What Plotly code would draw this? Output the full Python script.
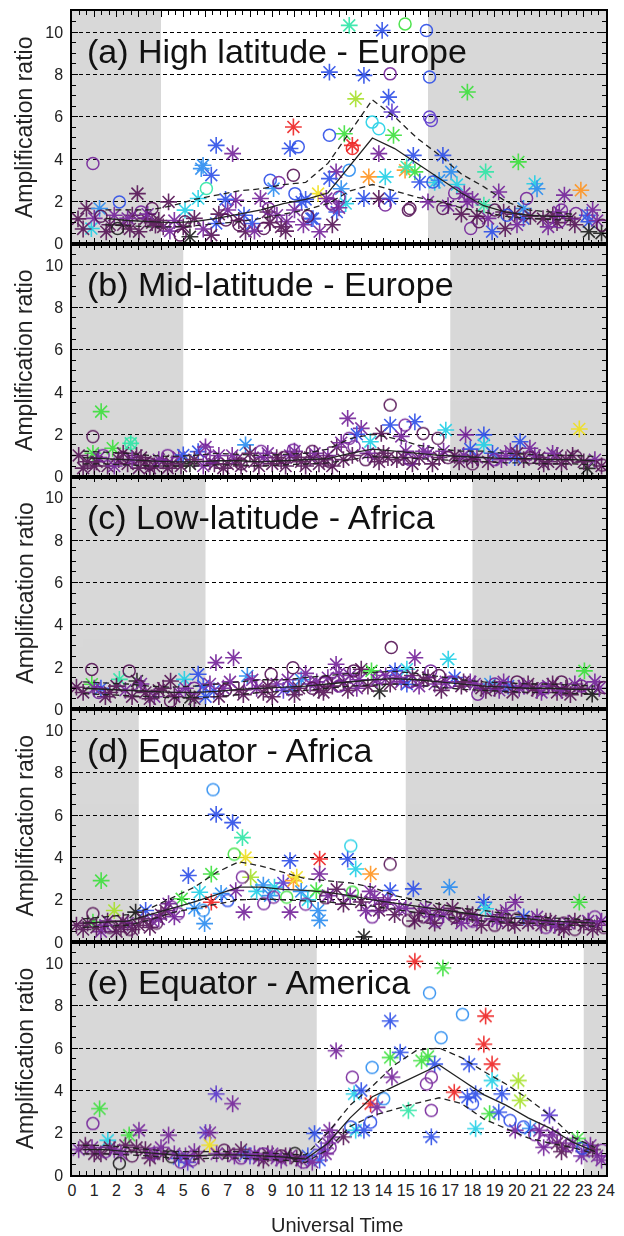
import plotly.graph_objects as go
from plotly.subplots import make_subplots

# ---------------- data ----------------
PALETTE = ["#561456", "#74239a", "#5a36cc", "#2d4ee8", "#2a8cf0", "#22d0e6",
           "#2ee6a6", "#3ce03c", "#a6e02a", "#f0e01e", "#ff9420", "#ee2222", "#1c1c1c"]

PANEL_TITLES = ["(a) High latitude - Europe", "(b) Mid-latitude - Europe",
                "(c) Low-latitude - Africa", "(d) Equator - Africa", "(e) Equator - America"]

NIGHT = [[(0, 4), (16, 24)], [(0, 5), (17, 24)], [(0, 6), (18, 24)],
         [(0, 3), (15, 24)], [(0, 11), (23, 24)]]

X_TICKS = [0, 1, 2, 3, 4, 5, 6, 7, 8, 9, 10, 11, 12, 13, 14, 15, 16, 17, 18, 19, 20, 21, 22, 23, 24]
LINE_X = [0.5, 1.5, 2.5, 3.5, 4.5, 5.5, 6.5, 7.5, 8.5, 9.5, 10.5, 11.5,
          12.5, 13.5, 14.5, 15.5, 16.5, 17.5, 18.5, 19.5, 20.5, 21.5, 22.5, 23.5]

# (hour, ratio, colour index)
a_star = [(0.27,1.18,0),(0.65,1.67,0),(0.87,0.72,5),(1.24,1.67,4),(1.54,0.57,0),(1.9,1.35,1),
          (2.94,2.37,0),(2.71,1.35,0),(3.01,0.57,0),(3.31,1.19,0),(3.75,0.88,0),(4.34,1.98,0),
          (5.3,0.33,12),(5.08,1.59,5),(5.67,2.14,5),(5.81,3.55,4),(6.26,3.24,3),(6.48,4.65,3),
          (7.22,4.26,1),(6.48,0.96,3),(6.26,0.41,0),(7.36,2.06,1),(7.73,1.35,3),(7.8,0.57,0),
          (8.1,0.96,3),(8.47,2.14,1),(9.06,2.61,4),(9.95,5.52,11),(9.8,4.5,3),(9.65,1.04,1),
          (9.21,1.35,1),(10.32,1.98,3),(5.89,3.71,4),(12.46,10.32,6),(12.75,6.85,8),(11.57,8.11,3),
          (13.12,7.96,3),(13.94,10.08,3),(14.23,6.93,3),(14.38,6.23,2),(12.6,4.65,11),(12.24,5.2,7),
          (14.45,5.13,7),(13.79,4.26,1),(15.34,4.18,3),(13.34,3.16,10),(14.08,3.16,5),(14.97,3.48,10),
          (15.41,3.4,7),(13.12,2.14,3),(13.79,2.14,0),(14.3,2.14,3),(16.0,1.98,1),(11.06,2.37,9),
          (11.43,2.14,1),(10.76,1.19,3),(11.13,0.57,1),(11.87,3.4,1),(11.57,3.08,3),(17.77,7.17,7),
          (20.06,3.87,7),(20.8,2.84,5),(22.87,2.53,10),(22.13,2.3,1),(18.59,3.4,6),(17.04,3.4,4),
          (16.67,4.18,3),(17.63,2.37,1),(17.77,1.98,1),(18.88,0.57,3),(19.47,0.72,0),(19.18,2.45,1),
          (18.51,1.83,6),(20.29,1.67,4),(20.29,1.19,3),(21.17,1.19,0),(21.61,1.35,0),(23.16,1.35,3),
          (23.23,1.04,3),(23.23,0.57,12),(15.63,2.92,3),(16.3,2.9,5),(15.04,3.63,6),(10.83,1.19,3),
          (2.3,0.9,0),(3.6,1.0,0),(4.1,0.8,0),(4.6,1.1,1),(2.5,1.2,1),(8.8,1.5,0),(9.4,0.8,0),
          (10.0,1.6,1),(10.5,2.1,3),(11.9,1.5,3),(12.1,2.6,4),(12.3,1.9,5),(7.0,1.6,1),(6.9,2.1,3),
          (5.5,1.2,0),(16.5,3.0,4),(17.3,2.8,5),(16.9,1.8,1),(18.2,1.3,0),(19.9,1.4,0),(21.8,1.0,0),
          (22.4,1.2,0),(23.6,1.1,1),(20.9,2.6,4),
          (0.5,0.7,0),(1.0,1.2,1),(1.7,0.9,0),(2.6,0.7,0),(3.4,1.4,1),(3.9,1.1,0),(4.4,0.6,1),
          (5.0,0.8,0),(5.9,0.7,1),(6.6,1.4,0),(7.5,1.1,0),(8.2,0.6,1),(8.9,1.0,0),(9.6,0.6,0),
          (10.4,0.9,1),(11.7,0.9,0),(12.0,1.7,1),(17.5,1.4,0),(18.0,2.1,1),(18.7,1.2,1),(19.4,1.5,0),
          (20.0,0.9,1),(20.6,1.3,0),(21.4,0.8,1),(21.9,1.5,1),(22.6,0.9,0),(23.4,1.6,1),(23.8,0.5,12)]
a_circ = [(0.94,3.79,1),(2.05,0.72,12),(2.13,1.98,3),(3.6,1.67,0),(4.86,0.41,0),(5.08,1.04,0),
          (6.04,2.61,6),(6.92,1.12,0),(8.62,0.72,0),(8.91,3.0,3),(9.95,3.24,0),(10.17,4.58,3),
          (8.84,1.67,1),(10.02,2.37,3),(11.57,5.13,3),(12.46,3.48,4),(14.3,8.03,1),(14.97,10.39,7),
          (15.93,10.08,3),(12.6,4.5,11),(13.49,5.75,5),(13.79,5.44,5),(14.08,1.83,1),(15.19,1.67,0),
          (11.65,1.9,1),(16.07,7.88,3),(16.07,5.99,2),(16.15,5.83,2),(15.12,1.59,0),(16.67,1.67,0),
          (17.92,0.72,1),(18.29,1.04,0),(19.55,1.35,3),(20.43,2.14,1),(21.9,1.04,1),(22.65,1.43,1),
          (23.83,0.88,0),(16.22,2.92,3),(11.72,1.83,1),(1.3,1.3,0),(3.1,1.5,1),(7.5,0.9,0),
          (9.3,2.9,1),(10.6,1.3,0),(12.0,2.2,1),(17.2,2.4,1),(19.0,1.6,0),(22.0,1.6,1)]
a_med = [None, 1.2, 1.1, 1.05, 1.0, 1.05, 1.2, 1.4, 1.6, 1.9, 2.1, 2.4, 3.7, 5.0, 4.5, 3.8, 3.1, 2.4, 1.8, 1.5, 1.35, 1.3, 1.3, None]
a_hi = [None, 1.6, 1.6, 1.6, 1.8, 2.1, 2.3, 2.5, 2.6, 2.8, 2.9, 3.8, 5.3, 6.8, 6.0, 5.0, 4.2, 3.3, 2.7, 2.0, 1.6, 1.5, 1.4, None]
a_lo = [None, 0.9, 0.85, 0.8, 0.8, 0.85, 0.95, 1.05, 1.2, 1.4, 1.6, 1.9, 2.5, 2.8, 2.5, 2.2, 2.0, 1.7, 1.5, 1.3, 1.2, 1.15, 1.1, None]

b_star = [(0.3,1.0,0),(0.94,1.1,7),(1.31,3.07,7),(1.83,1.34,7),(2.64,1.57,6),(0.7,0.7,0),(1.2,0.9,1),
          (1.6,0.5,0),(2.1,0.8,0),(2.5,0.6,0),(2.9,1.0,0),(3.3,0.7,0),(3.7,0.5,0),(4.1,0.75,0),
          (4.5,0.6,0),(4.8,0.9,1),(5.0,1.02,3),(5.3,0.6,12),(5.67,1.18,3),(6.2,0.7,1),(6.6,1.0,1),
          (7.0,0.6,0),(7.4,0.8,0),(7.8,1.5,4),(8.2,0.7,0),(8.6,0.9,1),(9.0,0.6,0),(9.4,0.75,0),
          (9.8,1.0,1),(10.3,0.7,0),(10.7,0.9,0),(11.1,0.6,0),(11.5,1.0,1),(11.9,1.4,0),(12.39,2.75,1),
          (13.0,2.28,1),(12.8,2.0,3),(13.41,1.65,5),(13.9,2.04,0),(13.6,0.9,0),(14.0,1.1,0),(14.3,2.44,3),
          (14.6,0.8,0),(15.41,2.59,3),(15.0,1.2,1),(15.6,0.9,0),(16.0,1.1,1),(16.8,2.2,5),(16.5,0.9,0),
          (17.2,1.0,0),(17.69,1.97,1),(17.4,0.7,0),(18.51,1.97,3),(18.51,1.5,5),(18.2,0.9,1),(18.9,1.1,3),
          (19.3,0.8,1),(19.7,1.2,1),(20.14,1.65,3),(20.58,1.34,1),(20.3,0.8,0),(21.0,0.9,0),(21.4,0.7,0),
          (21.8,1.0,0),(22.2,0.8,0),(22.8,2.25,9),(23.16,0.39,12),(23.5,0.8,1),(6.0,1.4,1),(10.0,1.2,1),
          (12.1,1.6,1),(14.8,1.9,1),(17.9,1.3,3),(19.9,0.9,3),(8.0,1.1,0),(3.0,0.4,0),(1.0,0.5,0),
          (0.5,0.4,0),(1.1,0.7,0),(1.9,0.5,1),(2.3,1.1,0),(2.7,0.8,1),(3.1,0.9,0),(3.5,0.4,0),
          (3.9,0.8,1),(4.3,0.4,0),(4.9,0.5,0),(5.5,0.8,0),(5.9,0.5,1),(6.4,0.6,0),(6.8,0.4,0),
          (7.2,1.0,1),(7.6,0.5,0),(8.4,0.5,0),(8.8,1.1,1),(9.2,0.9,0),(9.6,0.5,0),(10.1,0.9,0),
          (10.5,0.5,0),(10.9,1.1,1),(11.3,0.8,0),(11.7,0.5,0),(12.2,0.8,0),(12.6,1.0,0),(13.3,1.1,1),
          (13.8,0.7,0),(14.2,0.9,0),(14.9,0.9,0),(15.3,0.6,0),(15.8,1.2,1),(16.2,0.6,0),(16.7,1.2,1),
          (17.6,1.0,1),(18.0,0.8,0),(18.7,0.7,0),(19.5,1.0,1),(20.0,1.1,0),(20.8,1.0,1),(21.2,0.6,0),
          (21.6,1.1,1),(22.0,0.6,0),(22.5,1.0,0),(23.0,0.7,0),(23.8,0.5,0)]
b_circ = [(0.94,1.89,0),(2.64,1.57,6),(1.4,1.0,1),(2.3,0.9,0),(3.5,0.6,0),(5.96,1.26,1),(6.3,0.9,1),
          (7.6,0.6,0),(9.95,1.26,1),(9.5,0.9,0),(10.8,1.2,0),(11.6,0.7,0),(12.46,1.81,1),(12.68,1.42,1),
          (14.3,3.38,0),(14.97,2.44,1),(15.78,2.04,0),(16.45,1.81,0),(15.2,0.8,1),(13.2,0.8,0),
          (16.9,0.9,0),(18.0,0.6,0),(19.0,0.8,1),(20.6,0.9,0),(22.65,0.94,0),(23.83,0.55,0),
          (4.3,1.0,1),(8.5,1.2,1)]
b_med = [0.9, 0.85, 0.8, 0.75, 0.7, 0.7, 0.75, 0.75, 0.7, 0.75, 0.8, 0.85, 1.1, 1.3, 1.2, 1.1, 1.0, 0.95, 0.9, 0.85, 0.85, 0.8, 0.8, 0.75]
b_hi = [1.2, 1.15, 1.1, 1.0, 0.95, 1.0, 1.1, 1.05, 1.0, 1.05, 1.1, 1.3, 1.8, 2.0, 1.8, 1.5, 1.3, 1.2, 1.2, 1.1, 1.05, 1.0, 1.0, 0.95]
b_lo = [0.6, 0.6, 0.55, 0.5, 0.5, 0.5, 0.55, 0.55, 0.5, 0.55, 0.6, 0.65, 0.8, 0.95, 0.9, 0.85, 0.8, 0.75, 0.7, 0.65, 0.65, 0.6, 0.6, 0.55]

c_star = [(0.2,1.05,0),(0.89,1.19,7),(1.3,1.0,3),(1.7,0.8,0),(2.13,1.42,6),(2.4,0.9,1),(2.92,1.34,12),
          (3.3,0.8,0),(3.7,0.6,1),(4.1,1.0,0),(4.43,1.34,0),(4.8,0.8,1),(5.05,1.42,5),(5.32,0.56,12),
          (5.67,1.66,3),(5.9,1.1,3),(6.38,0.87,3),(6.47,2.21,1),(6.8,1.0,1),(7.26,2.44,1),(7.5,0.9,0),
          (7.88,1.58,4),(8.3,1.0,1),(8.6,0.8,0),(9.2,1.2,1),(9.5,0.9,2),(9.93,1.03,3),(10.3,1.4,4),
          (10.7,1.2,1),(11.1,0.9,0),(11.5,1.5,1),(11.87,2.13,1),(12.2,1.3,0),(12.5,1.6,1),(13.0,1.9,0),
          (13.46,1.82,7),(13.82,0.87,12),(14.1,1.6,1),(14.52,1.82,3),(14.8,1.3,1),(15.05,1.9,5),
          (15.05,1.19,3),(15.41,2.44,1),(15.8,1.4,0),(16.3,1.2,1),(16.91,2.37,5),(17.2,1.5,3),
          (17.5,1.1,0),(17.9,1.3,1),(18.4,1.0,0),(18.8,1.2,4),(19.2,0.9,1),(19.6,1.1,3),(20.1,1.0,1),
          (20.5,1.2,0),(20.9,0.9,0),(21.4,1.1,1),(21.8,0.8,0),(22.2,1.0,0),(22.6,1.2,1),(23.03,1.82,7),
          (23.38,0.72,12),(23.7,1.0,1),(16.6,0.9,0),(12.8,1.0,1),(10.0,0.7,0),(6.0,0.6,3),
          (0.5,0.8,0),(1.0,1.0,1),(1.5,0.6,0),(2.0,1.1,0),(2.7,0.6,0),(3.1,1.2,1),(3.5,0.5,0),
          (3.9,0.9,0),(4.6,0.6,0),(5.1,1.0,1),(5.5,0.5,0),(6.2,1.2,1),(6.6,0.6,0),(7.1,1.3,1),
          (7.7,0.7,0),(8.1,1.4,1),(8.8,1.1,0),(9.0,0.6,0),(9.7,1.4,1),(10.2,1.0,0),(10.5,1.7,1),
          (11.0,1.3,1),(11.3,0.8,0),(11.7,1.1,0),(12.0,1.7,1),(12.4,0.9,0),(12.9,1.4,1),(13.3,1.1,0),
          (13.7,1.4,1),(14.3,1.2,0),(14.6,1.5,1),(15.3,1.6,0),(15.6,1.1,1),(16.0,1.5,0),(16.8,1.3,1),
          (17.6,1.3,0),(18.1,1.2,1),(18.6,0.9,0),(19.0,1.0,0),(19.4,1.3,1),(19.8,0.8,0),(20.3,1.1,1),
          (20.7,1.0,0),(21.1,0.8,1),(21.6,1.2,0),(22.0,0.9,1),(22.4,0.7,0),(22.9,1.0,0),(23.5,1.3,1)]
c_circ = [(0.89,1.89,0),(1.2,0.8,1),(2.57,1.82,0),(3.0,1.1,0),(4.43,0.4,0),(5.5,1.0,1),(8.95,1.66,0),
          (8.0,1.2,1),(9.93,1.97,0),(10.8,1.0,0),(12.66,1.82,0),(12.0,1.1,1),(14.35,2.92,0),(13.8,1.5,1),
          (15.2,1.3,1),(16.12,1.82,1),(16.5,1.6,0),(17.0,1.3,1),(18.24,0.72,1),(19.0,1.2,1),(20.0,1.3,0),
          (21.2,1.0,1),(22.0,1.3,0),(22.9,1.1,1),(23.9,1.03,0),(6.9,0.9,0),(11.4,1.3,0)]
c_med = [1.0, 0.95, 0.9, 0.85, 0.8, 0.8, 0.85, 0.95, 1.0, 1.05, 1.1, 1.2, 1.3, 1.4, 1.45, 1.4, 1.3, 1.2, 1.1, 1.05, 1.0, 1.0, 0.95, 0.95]
c_hi = [1.3, 1.25, 1.2, 1.1, 1.05, 1.1, 1.2, 1.3, 1.4, 1.4, 1.5, 1.6, 1.7, 1.75, 1.8, 1.7, 1.55, 1.4, 1.3, 1.25, 1.2, 1.2, 1.15, 1.1]
c_lo = [0.75, 0.7, 0.65, 0.6, 0.55, 0.55, 0.6, 0.7, 0.8, 0.85, 0.9, 1.0, 1.1, 1.15, 1.2, 1.15, 1.05, 0.95, 0.9, 0.85, 0.8, 0.8, 0.75, 0.75]

d_star = [(0.2,0.8,0),(0.94,0.95,7),(1.31,2.91,7),(0.5,0.6,0),(1.3,0.5,1),(1.6,1.0,0),(1.9,1.5,8),
          (2.2,0.7,0),(2.5,0.9,1),(2.86,1.42,12),(3.0,0.8,0),(3.31,1.5,3),(3.6,1.0,1),(4.0,1.3,0),
          (4.34,1.82,1),(4.93,2.05,7),(5.23,3.15,3),(5.5,1.6,4),(5.74,2.36,5),(5.96,0.88,4),(6.26,3.22,7),
          (6.26,1.89,11),(6.48,6.04,3),(6.7,2.3,4),(7.22,5.65,3),(7.36,2.44,1),(7.66,4.94,6),(7.73,1.42,1),
          (7.8,4.0,9),(8.03,3.07,8),(8.3,2.4,5),(8.6,2.7,4),(8.9,2.2,4),(9.1,2.6,5),(9.5,2.8,2),
          (9.8,3.85,3),(9.8,1.42,1),(9.95,2.91,10),(10.1,3.07,9),(10.3,2.4,4),(10.6,2.0,5),(10.98,2.44,7),
          (11.06,1.5,4),(11.13,1.03,4),(11.13,3.93,11),(11.13,3.22,1),(11.5,2.2,1),(11.9,2.5,0),
          (12.39,3.93,3),(12.75,3.46,5),(12.2,1.8,0),(13.2,1.5,1),(13.42,3.22,10),(13.6,2.1,1),
          (13.12,0.25,12),(14.0,1.8,0),(14.3,2.44,3),(14.7,1.6,1),(15.34,2.52,3),(15.6,1.4,0),
          (16.1,1.2,1),(16.5,1.5,0),(16.96,2.6,4),(17.3,1.1,0),(17.77,1.35,0),(18.2,1.0,1),(18.51,1.89,3),
          (18.59,1.58,5),(18.9,1.1,1),(19.3,1.3,0),(19.6,0.9,0),(19.92,1.89,1),(20.3,1.2,3),(20.7,1.0,1),
          (21.1,0.8,0),(21.5,1.0,0),(21.9,0.7,0),(22.3,0.9,1),(22.8,1.89,7),(23.2,1.0,1),(23.6,0.8,0),
          (0.7,0.9,0),(1.1,0.7,0),(1.5,0.8,1),(2.0,0.5,0),(2.3,1.0,0),(2.7,0.6,0),(3.2,1.1,0),
          (3.5,0.7,0),(3.9,1.1,1),(4.2,1.5,0),(4.6,1.2,1),(12.5,2.2,1),(13.0,1.9,0),(13.4,2.4,1),
          (13.8,1.5,0),(14.2,2.0,1),(14.5,1.3,0),(15.0,1.6,1),(15.4,1.0,0),(15.9,1.6,1),(16.3,0.9,0),
          (16.7,1.3,1),(17.1,1.6,0),(17.5,0.9,1),(18.0,1.3,0),(18.4,0.8,0),(19.1,1.0,1),(19.5,1.5,1),
          (19.9,0.8,0),(20.5,0.9,0),(20.9,1.2,1),(21.3,1.0,0),(21.7,0.8,1),(22.1,0.6,0),(22.6,1.0,0),
          (23.0,0.8,0),(23.4,0.6,0),(23.8,1.0,1)]
d_circ = [(0.94,1.35,0),(1.7,0.7,0),(2.6,0.6,0),(3.8,0.9,0),(4.48,1.66,1),(4.78,1.35,1),(6.34,7.21,4),
          (7.0,1.97,3),(7.29,4.16,7),(7.66,3.07,1),(8.62,1.82,1),(9.06,2.13,1),(9.65,2.13,7),(10.5,1.8,1),
          (11.4,2.1,0),(12.53,4.55,5),(12.6,2.36,7),(13.49,1.19,1),(14.3,3.69,0),(13.9,1.7,1),
          (15.12,1.03,0),(15.8,1.2,0),(16.4,1.0,1),(17.2,1.2,0),(18.0,1.0,1),(19.0,0.8,0),(20.0,1.1,0),
          (21.3,0.7,1),(22.1,0.9,0),(22.6,0.6,0),(23.5,1.2,1),(23.9,0.7,0),(5.9,1.5,4)]
d_med = [0.9, 0.95, 1.0, 1.3, 1.6, 1.9, 2.25, 2.6, 2.6, 2.5, 2.45, 2.35, 2.2, 2.0, 1.85, 1.7, 1.55, 1.38, 1.25, 1.15, 1.1, 1.0, 0.95, 0.9]
d_hi = [1.1, 1.2, 1.3, 1.6, 2.1, 2.6, 3.3, 3.8, 3.6, 3.3, 3.0, 2.9, 2.8, 2.6, 2.2, 2.0, 1.8, 1.6, 1.5, 1.35, 1.25, 1.15, 1.1, 1.05]
d_lo = [0.7, 0.75, 0.8, 1.05, 1.4, 1.6, 1.8, 2.0, 2.05, 2.0, 1.95, 1.9, 1.8, 1.7, 1.55, 1.4, 1.25, 1.1, 1.0, 0.95, 0.9, 0.85, 0.8, 0.75]

e_star = [(0.3,1.2,1),(0.9,1.3,1),(1.24,3.13,7),(1.3,1.0,0),(1.61,1.64,5),(1.9,1.2,1),(2.57,1.88,7),
          (3.01,2.11,1),(2.4,1.4,0),(3.3,1.2,0),(3.7,1.0,1),(4.34,1.88,1),(4.1,1.0,0),(4.8,0.78,3),
          (5.1,0.9,1),(5.5,1.1,1),(6.0,2.0,2),(6.2,2.0,1),(6.19,1.41,9),(6.48,3.83,2),(7.22,3.37,1),
          (7.0,1.0,0),(7.8,1.0,3),(8.0,0.9,2),(8.4,0.8,1),(8.8,1.0,0),(9.2,0.8,1),(9.6,0.9,0),
          (10.3,0.7,1),(10.6,0.9,3),(10.9,1.96,3),(11.13,0.7,3),(11.57,2.11,1),(11.5,1.5,1),
          (11.87,5.87,1),(12.2,1.8,0),(12.68,3.83,5),(12.75,2.11,5),(13.0,3.99,3),(13.12,2.11,3),
          (13.42,3.37,11),(13.71,3.2,1),(14.3,7.28,3),(14.3,5.55,7),(14.38,4.62,1),(14.75,5.79,3),
          (15.12,3.05,6),(15.41,10.09,11),(15.71,5.4,7),(16.0,5.6,7),(16.15,1.8,3),(16.3,5.24,3),
          (16.67,9.78,7),(17.18,3.91,11),(17.77,3.68,3),(17.85,5.24,3),(18.14,3.83,3),(18.14,2.19,5),
          (18.51,6.18,11),(18.59,7.51,11),(18.77,2.9,7),(18.88,5.24,11),(18.88,4.46,5),(19.18,2.97,3),
          (19.32,3.83,3),(19.92,2.11,1),(20.06,4.46,8),(20.14,3.52,8),(20.6,2.2,4),(21.0,2.1,1),
          (21.46,2.82,2),(21.8,1.5,0),(22.2,1.3,0),(22.72,1.72,7),(23.0,1.1,2),(23.3,1.4,1),(23.6,0.9,1),
          (11.2,1.2,2),
          (0.6,1.4,0),(1.0,1.0,0),(1.7,1.3,0),(2.2,1.0,1),(2.9,1.3,0),(3.5,0.8,0),(4.0,1.3,1),
          (4.6,1.0,1),(5.2,0.6,2),(5.7,0.9,0),(6.5,1.0,1),(7.3,0.9,1),(7.6,1.2,0),(8.2,1.0,1),
          (8.6,0.7,0),(9.0,1.0,1),(9.4,0.7,1),(9.8,0.9,1),(10.1,0.8,0),(10.8,0.6,1),(11.4,1.0,1),
          (11.7,1.8,1),(21.2,1.3,1),(21.6,1.9,1),(22.0,1.1,0),(22.5,1.5,1),(22.9,0.9,1),(23.4,1.2,0),
          (23.8,0.7,1)]
e_circ = [(0.94,2.43,1),(1.5,1.1,1),(2.13,0.55,12),(2.7,0.9,0),(3.6,1.0,1),(4.48,0.86,12),(4.9,0.6,1),
          (5.4,0.7,1),(6.84,1.17,0),(7.6,0.8,1),(8.6,1.0,1),(9.4,0.9,0),(10.02,1.02,12),(10.4,0.6,1),
          (11.6,1.3,1),(12.53,2.27,3),(12.6,4.62,1),(13.42,2.5,3),(13.49,5.08,4),(14.01,3.6,4),
          (15.93,4.3,1),(16.15,4.62,1),(16.15,3.05,1),(16.07,8.6,4),(16.59,6.49,4),(17.55,7.59,4),
          (18.0,3.37,3),(19.69,2.58,3),(20.29,2.27,3),(20.8,1.9,1),(21.2,1.6,1),(21.7,1.8,1),
          (22.3,1.4,1),(22.94,1.27,3),(23.83,1.17,1)]
e_med = [1.2, 1.2, 1.1, 1.05, 0.95, 0.9, 0.95, 0.95, 0.9, 0.85, 0.75, 1.5, 2.7, 3.7, 4.2, 4.7, 5.2, 4.5, 3.8, 3.3, 2.7, 2.2, 1.55, 1.1]
e_hi = [1.4, 1.4, 1.3, 1.2, 1.1, 1.1, 1.1, 1.1, 1.05, 1.0, 0.95, 2.0, 3.3, 4.2, 5.2, 5.9, 6.0, 5.55, 4.9, 4.3, 3.6, 2.8, 1.8, 1.3]
e_lo = [1.0, 1.0, 0.95, 0.9, 0.8, 0.75, 0.8, 0.8, 0.75, 0.7, 0.6, 1.2, 2.3, 2.8, 3.1, 3.4, 3.65, 3.38, 2.65, 2.2, 1.75, 1.5, 1.3, 1.0]

PANELS = [
    (a_star, a_circ, a_med, a_hi, a_lo),
    (b_star, b_circ, b_med, b_hi, b_lo),
    (c_star, c_circ, c_med, c_hi, c_lo),
    (d_star, d_circ, d_med, d_hi, d_lo),
    (e_star, e_circ, e_med, e_hi, e_lo),
]

# ---------------- figure ----------------
FONT = "Liberation Sans, Arial, Helvetica, sans-serif"
fig = make_subplots(rows=5, cols=1, shared_xaxes=True, vertical_spacing=0)

for r, (stars, circs, med, hi, lo) in enumerate(PANELS, start=1):
    xr = "x" if r == 1 else f"x{r}"
    yr = "y" if r == 1 else f"y{r}"
    for (x0, x1) in NIGHT[r - 1]:
        fig.add_shape(type="rect", xref=xr, yref=f"{yr} domain", x0=x0, x1=x1, y0=0, y1=1,
                      fillcolor="#d8d8d8", line_width=0, layer="below")
    fig.add_trace(go.Scatter(
        x=[p[0] for p in stars], y=[p[1] for p in stars], mode="markers",
        marker=dict(symbol="asterisk-open", size=14, color=[PALETTE[p[2]] for p in stars],
                    line=dict(width=1.6)),
        opacity=0.9, hoverinfo="skip"), row=r, col=1)
    fig.add_trace(go.Scatter(
        x=[p[0] for p in circs], y=[p[1] for p in circs], mode="markers",
        marker=dict(symbol="circle-open", size=12, color=[PALETTE[p[2]] for p in circs],
                    line=dict(width=1.5)),
        opacity=0.9, hoverinfo="skip"), row=r, col=1)
    for vals, dash in ((hi, "6px,4px"), (lo, "6px,4px"), (med, "solid")):
        fig.add_trace(go.Scatter(x=LINE_X, y=vals, mode="lines",
                                 line=dict(color="#222222", width=1.3, dash=dash),
                                 hoverinfo="skip"), row=r, col=1)
    fig.add_annotation(x=0.6, y=9.1, xanchor="left", yanchor="middle", showarrow=False,
                       text=PANEL_TITLES[r - 1], font=dict(size=34, color="#111111", family=FONT),
                       row=r, col=1)

fig.update_xaxes(range=[0, 24], tickmode="array", tickvals=X_TICKS, ticks="inside", ticklen=6,
                 tickwidth=1, tickcolor="black", showline=True, linecolor="black", linewidth=1.5,
                 mirror="ticks", showgrid=False, zeroline=False,
                 minor=dict(tickmode="linear", tick0=0, dtick=1 / 3, ticks="inside", ticklen=4,
                            tickcolor="black", showgrid=False),
                 tickfont=dict(size=16, color="#222222", family=FONT))
fig.update_yaxes(range=[0, 11], tickmode="linear", tick0=0, dtick=2, ticks="inside", ticklen=6,
                 tickwidth=1, tickcolor="black", showline=True, linecolor="black", linewidth=1.5,
                 mirror="ticks", showgrid=True, gridcolor="black", gridwidth=1, griddash="4px,3px",
                 zeroline=False, ticklabelstandoff=4,
                 minor=dict(tickmode="linear", tick0=0, dtick=0.5, ticks="inside", ticklen=4,
                            tickcolor="black", showgrid=False),
                 tickfont=dict(size=16, color="#222222", family=FONT))

for r in range(1, 6):
    key = "yaxis" if r == 1 else f"yaxis{r}"
    dom = fig.layout[key].domain
    fig.add_annotation(xref="paper", yref="paper", x=-0.0886, y=(dom[0] + dom[1]) / 2,
                       xanchor="center", yanchor="middle", textangle=-90, showarrow=False,
                       text="Amplification ratio", font=dict(size=23, color="#222222", family=FONT))

fig.add_annotation(xref="paper", yref="paper", x=0.497, y=-0.0429, xanchor="center",
                   yanchor="middle", showarrow=False, text="Universal Time",
                   font=dict(size=20, color="#222222", family=FONT))

fig.update_layout(width=624, height=1236, margin=dict(l=72, r=10, t=9, b=61),
                  plot_bgcolor="white", paper_bgcolor="white", showlegend=False,
                  font=dict(family=FONT))

fig.write_html("out.html")
